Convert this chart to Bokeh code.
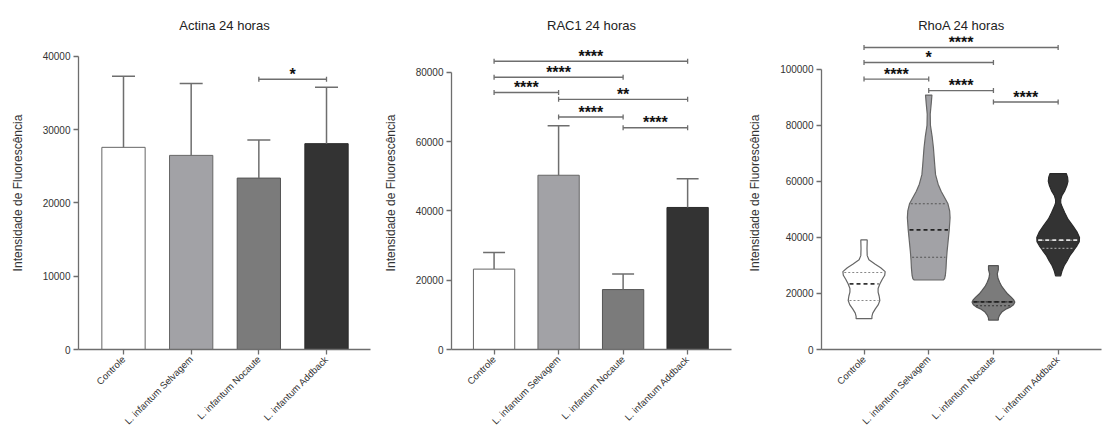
import math
import numpy as np
from bokeh.plotting import figure
from bokeh.layouts import row
from bokeh.models import Range1d, FixedTicker, BasicTickFormatter
from bokeh.core.properties import value
from bokeh.embed import file_html
from bokeh.resources import INLINE

FONT = "Liberation Sans"

# ---------------- data ----------------
categories = ["Controle", "L. infantum Selvagem", "L. infantum Nocaute", "L. infantum Addback"]
positions = [1, 2, 3, 4]

actina_mean = [27600, 26500, 23400, 28100]
actina_err_top = [37300, 36300, 28600, 35800]
actina_ticks = [0, 10000, 20000, 30000, 40000]
actina_sig_from = [3]
actina_sig_to = [4]
actina_sig_y = [36900]
actina_sig_label = ["*"]

rac1_mean = [23200, 50300, 17300, 41000]
rac1_err_top = [28000, 64600, 21800, 49300]
rac1_ticks = [0, 20000, 40000, 60000, 80000]
rac1_sig_from = [1, 1, 1, 2, 2, 3]
rac1_sig_to = [4, 3, 2, 4, 3, 4]
rac1_sig_y = [83200, 78600, 74200, 72200, 67100, 64000]
rac1_sig_label = ["****", "****", "****", "**", "****", "****"]

rhoa_ticks = [0, 20000, 40000, 60000, 80000, 100000]
rhoa_sig_from = [1, 1, 1, 2, 3]
rhoa_sig_to = [4, 3, 2, 3, 4]
rhoa_sig_y = [107800, 102400, 96500, 92400, 88300]
rhoa_sig_label = ["****", "*", "****", "****", "****"]

# violin profiles: value levels and relative density
ctrl_y = [11000, 11800, 13000, 14500, 16000, 17500, 19000, 20500, 21800, 23400, 25000,
          26500, 27800, 29200, 30500, 32000, 33500, 36000, 39100]
ctrl_d = [0.37, 0.37, 0.41, 0.53, 0.67, 0.74, 0.71, 0.66, 0.66, 0.74, 0.85,
          0.97, 0.99, 0.78, 0.51, 0.23, 0.15, 0.14, 0.15]
selv_y = [24800, 25200, 26500, 29000, 32000, 35000, 38000, 42700, 47000, 49500, 52000,
          54000, 56500, 59000, 62400, 66000, 72000, 76000, 80000, 84000, 88000, 90800]
selv_d = [0.68, 0.74, 0.78, 0.81, 0.83, 0.86, 0.90, 0.96, 1.0, 0.98, 0.90,
          0.76, 0.58, 0.44, 0.32, 0.28, 0.22, 0.16, 0.08, 0.07, 0.12, 0.15]
noc_y = [10500, 11200, 12300, 13500, 14500, 15200, 16000, 16900, 17800, 18700, 19800,
         21000, 22500, 24000, 25500, 27000, 28500, 29900]
noc_d = [0.23, 0.23, 0.29, 0.41, 0.61, 0.81, 0.94, 1.0, 0.94, 0.83, 0.67,
         0.54, 0.39, 0.29, 0.21, 0.18, 0.23, 0.23]
add_y = [26300, 28000, 29900, 31500, 33400, 35500, 37000, 38500, 40000, 42000, 44100,
         46500, 48800, 51000, 52300, 53500, 55000, 56500, 58500, 60000, 61500, 62800]
add_d = [0.12, 0.18, 0.28, 0.41, 0.54, 0.74, 0.88, 0.99, 1.0, 0.88, 0.69,
         0.46, 0.31, 0.18, 0.12, 0.12, 0.18, 0.30, 0.41, 0.46, 0.44, 0.38]

ctrl_quart = [17500, 23400, 27500]
selv_quart = [32900, 42700, 52000]
noc_quart = [15600, 17000, 17000]
add_quart = [36100, 39000, 39000]

# ---------------- styles ----------------
fill_colors = ["#ffffff", "#a2a2a6", "#7b7b7b", "#333333"]
edge_colors = ["#666666", "#666666", "#555555", "#2a2a2a"]
median_colors = ["#333333", "#222222", "#222222", "#e0e0e0"]
quart_colors = ["#888888", "#555555", "#333333", "#9a9a9a"]
AX = "#6e6e6e"
VIOLIN_HALF = 0.33
H = 435


def make_fig(title, width, left, right, bottom, xr, y_end, ticks):
    p = figure(width=width, height=H, output_backend="svg", toolbar_location=None,
               x_range=Range1d(*xr), y_range=Range1d(0, y_end),
               min_border_left=left, min_border_right=right,
               min_border_top=36, min_border_bottom=bottom, title=title)
    p.title.align = "center"
    p.title.text_font = FONT
    p.title.text_font_size = "13px"
    p.title.text_font_style = "normal"
    p.title.text_color = "#222222"
    p.title.standoff = 7
    p.outline_line_color = None
    p.grid.visible = False
    p.background_fill_color = "white"

    p.axis.axis_line_color = AX
    p.axis.axis_line_width = 1.3
    p.axis.major_tick_line_color = AX
    p.axis.major_tick_line_width = 1.3
    p.axis.major_tick_out = 5
    p.axis.major_tick_in = 0
    p.axis.minor_tick_line_color = None
    p.axis.major_label_text_font = FONT
    p.axis.major_label_text_font_size = "10px"
    p.axis.major_label_text_color = "#333333"

    p.xaxis.ticker = FixedTicker(ticks=positions)
    p.xaxis.major_label_overrides = {pos: c for pos, c in zip(positions, categories)}
    p.xaxis.major_label_orientation = math.pi / 4
    p.xaxis.major_label_standoff = 3
    p.xaxis.major_label_text_font_size = "9.5px"

    p.yaxis.ticker = FixedTicker(ticks=ticks)
    p.yaxis.bounds = (0, ticks[-1])
    p.yaxis.formatter = BasicTickFormatter(use_scientific=False)
    p.yaxis.major_label_standoff = 3
    p.yaxis.axis_label = "Intensidade de Fluorescência"
    p.yaxis.axis_label_text_font = FONT
    p.yaxis.axis_label_text_font_size = "12px"
    p.yaxis.axis_label_text_font_style = "normal"
    p.yaxis.axis_label_text_color = "#333333"
    p.yaxis.axis_label_standoff = 15
    return p


def add_bars(p, means, errs):
    p.vbar(x=positions, top=means, bottom=0, width=0.64, fill_color=fill_colors,
           line_color=edge_colors, line_width=1)
    p.segment(x0=positions, y0=means, x1=positions, y1=errs, line_color=AX, line_width=1.5)
    p.segment(x0=[x - 0.17 for x in positions], y0=errs,
              x1=[x + 0.17 for x in positions], y1=errs, line_color=AX, line_width=1.5)


def add_sig(p, frm, to, ys, labels):
    p.segment(x0=frm, y0=ys, x1=to, y1=ys, line_color=AX, line_width=1.4)
    p.scatter(x=frm + to, y=ys + ys, marker="dash", angle=math.pi / 2, size=5,
              line_color=AX, line_width=1.3)
    p.text(x=[(a + b) / 2 for a, b in zip(frm, to)], y=ys, text=labels,
           text_align="center", text_baseline="alphabetic", y_offset=-5,
           text_font=value(FONT), text_font_size="16px", text_font_style="bold",
           text_color="#111111")


# ---------------- panel 1 ----------------
p1 = make_fig("Actina 24 horas", 380, 78, 10, H - 349, (0.335, 4.65), 42730, actina_ticks)
add_bars(p1, actina_mean, actina_err_top)
add_sig(p1, actina_sig_from, actina_sig_to, actina_sig_y, actina_sig_label)

# ---------------- panel 2 ----------------
p2 = make_fig("RAC1 24 horas", 365, 70, 14, H - 353, (0.34, 4.68), 90345, rac1_ticks)
add_bars(p2, rac1_mean, rac1_err_top)
add_sig(p2, rac1_sig_from, rac1_sig_to, rac1_sig_y, rac1_sig_label)

# ---------------- panel 3 ----------------
p3 = make_fig("RhoA 24 horas", 358, 73, 2, H - 351, (0.343, 4.67), 111700, rhoa_ticks)
profiles = [(ctrl_y, ctrl_d, ctrl_quart), (selv_y, selv_d, selv_quart),
            (noc_y, noc_d, noc_quart), (add_y, add_d, add_quart)]
for i, (ys, ds, qs) in enumerate(profiles):
    c = positions[i]
    half = [d * VIOLIN_HALF for d in ds]
    xs = [c + h for h in half] + [c - h for h in half[::-1]]
    yy = list(ys) + list(ys[::-1])
    p3.patch(xs, yy, fill_color=fill_colors[i], line_color=edge_colors[i], line_width=1.2)
    for k, q in enumerate(qs):
        if k == 1:
            continue
        h = float(np.interp(q, ys, half)) - 0.02
        p3.segment(x0=[c - h], y0=[q], x1=[c + h], y1=[q], line_color=quart_colors[i],
                   line_width=1.1, line_dash="2 2")
    h = float(np.interp(qs[1], ys, half)) - 0.02
    p3.segment(x0=[c - h], y0=[qs[1]], x1=[c + h], y1=[qs[1]], line_color=median_colors[i],
               line_width=1.8, line_dash="4 3")
add_sig(p3, rhoa_sig_from, rhoa_sig_to, rhoa_sig_y, rhoa_sig_label)

layout = row(p1, p2, p3)
open("out.html", "w").write(file_html(layout, INLINE))
